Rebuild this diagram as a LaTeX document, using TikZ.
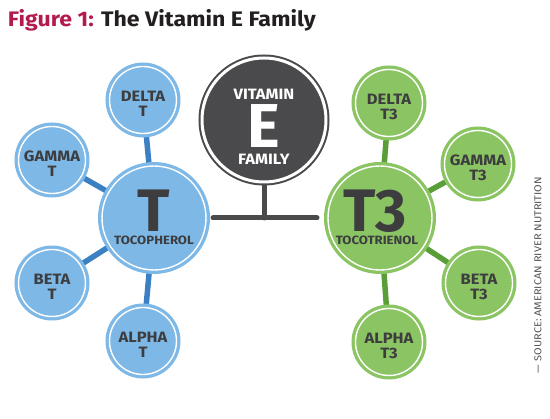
\documentclass[tikz,border=0pt]{standalone}
\usepackage{fontspec}
\setmainfont{Fira Sans}[FakeStretch=1.1]
\newfontfamily\bigfont{Fira Sans}
\usetikzlibrary{backgrounds}
\definecolor{tblue}{HTML}{7DB8E6}
\definecolor{tbluelink}{HTML}{3B80C3}
\definecolor{tgreen}{HTML}{8BC462}
\definecolor{tgreenlink}{HTML}{5A9E3A}
\definecolor{tdark}{HTML}{4A4A4C}
\definecolor{ttext}{HTML}{3D3D40}
\definecolor{tred}{HTML}{B31B4D}
\definecolor{ttitle}{HTML}{231F20}
\definecolor{tsrc}{HTML}{555555}
\begin{document}
\begin{tikzpicture}[x=1pt,y=-1pt,
  every node/.style={inner sep=0pt, outer sep=0pt},
  smalltext/.style={text=ttext, font=\bfseries\fontsize{15}{15}\selectfont, align=center},
  bluedisc/.style={circle, minimum size=#1, fill=tblue, draw=white, line width=1.4pt,
    preaction={draw=tblue, line width=8pt}},
  greendisc/.style={circle, minimum size=#1, fill=tgreen, draw=white, line width=1.4pt,
    preaction={draw=tgreen, line width=8pt}},
  bluelink/.style={draw=tbluelink, line width=5.5pt},
  greenlink/.style={draw=tgreenlink, line width=5.5pt},
  stemline/.style={draw=tdark, line width=5pt, line cap=round},
  bigletter/.style={text=ttext, font=\bigfont\bfseries\fontsize{60}{60}\selectfont, anchor=base,
    text height=41pt, text depth=0pt},
  subname/.style={text=ttext, font=\bfseries\fontsize{12}{12}\selectfont, anchor=base},
  whitetext/.style={text=white, font=\bfseries\fontsize{15}{15}\selectfont, anchor=base},
]
\useasboundingbox (0,0) rectangle (550,419);

% title
\node[anchor=base west, font=\bfseries\fontsize{21}{21}\selectfont] (title) at (8,27)
  {\textcolor{tred}{Figure 1:} \textcolor{ttitle}{The Vitamin E Family}};

% central node
\node[circle, minimum size=124, fill=tdark, draw=tdark, double=white, double distance=3pt, line width=2pt] (E) at (264,120) {};
\node[whitetext] (Evit) at (264,100) {VITAMIN};
\node[whitetext, font=\bigfont\bfseries\fontsize{62}{62}\selectfont, text height=43pt, text depth=0pt] (Eletter) at (264,148) {E};
\node[whitetext] (Efam) at (264,165) {FAMILY};

% tocopherol
\node[bluedisc=104] (T) at (154,218) {};
\node[bigletter] (Tletter) at (154,231.5) {T};
\node[subname] (Tsub) at (154,245) {TOCOPHEROL};
\node[bluedisc=67] (dT) at (143,100) {};
\node[bluedisc=67] (gT) at (52,160) {};
\node[bluedisc=67] (bT) at (52,283) {};
\node[bluedisc=67] (aT) at (143,341) {};
\node[smalltext] (dTl) at (143,104) {DELTA\\T};
\node[smalltext] (gTl) at (52,163.5) {GAMMA\\T};
\node[smalltext] (bTl) at (52,286.5) {BETA\\T};
\node[smalltext] (aTl) at (143,344.5) {ALPHA\\T};

% tocotrienol
\node[greendisc=104] (T3) at (380,218) {};
\node[bigletter] (T3letter) at (375,231.5) {T3};
\node[subname] (T3sub) at (377,245) {TOCOTRIENOL};
\node[greendisc=67] (dT3) at (389,103) {};
\node[greendisc=67] (gT3) at (478,164) {};
\node[greendisc=67] (bT3) at (479,283) {};
\node[greendisc=67] (aT3) at (389,342) {};
\node[smalltext] (dT3l) at (389,106.5) {DELTA\\T3};
\node[smalltext] (gT3l) at (478,167.5) {GAMMA\\T3};
\node[smalltext] (bT3l) at (479,286.5) {BETA\\T3};
\node[smalltext] (aT3l) at (389,345.5) {ALPHA\\T3};

% stem
\coordinate (stemfoot) at (264,218);
\coordinate (barL) at (213,218);
\coordinate (barR) at (317,218);

\begin{scope}[on background layer]
  \draw[bluelink] (T) -- (dT);
  \draw[bluelink] (T) -- (gT);
  \draw[bluelink] (T) -- (bT);
  \draw[bluelink] (T) -- (aT);
  \draw[greenlink] (T3) -- (dT3);
  \draw[greenlink] (T3) -- (gT3);
  \draw[greenlink] (T3) -- (bT3);
  \draw[greenlink] (T3) -- (aT3);
  \draw[stemline] (E) -- (stemfoot);
  \draw[stemline] (barL) -- (barR);
\end{scope}

% source
\node[rotate=90, text=tsrc, font=\fontsize{10}{10}\selectfont] (src) at (538,275)
  {— SOURCE: AMERICAN RIVER NUTRITION};
\end{tikzpicture}
\end{document}
